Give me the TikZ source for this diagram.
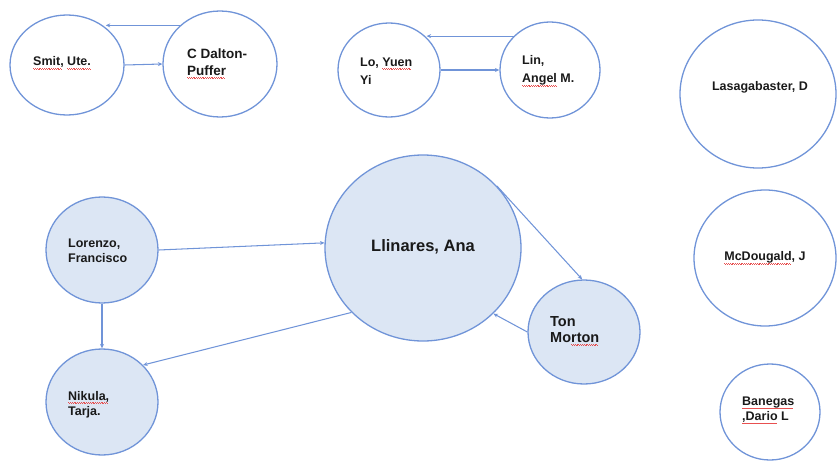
\documentclass[tikz,border=0pt]{standalone}
\usepackage{fontspec}
\setmainfont{Liberation Sans}
\usetikzlibrary{shapes.geometric,arrows.meta}
\definecolor{edgeblue}{RGB}{112,148,216}
\definecolor{fillblue}{RGB}{220,230,244}
\definecolor{txt}{RGB}{25,25,25}
\definecolor{spell}{RGB}{232,80,80}
\newsavebox\sqbox
\newcommand\sq[1]{\sbox\sqbox{#1}\rlap{\textcolor{spell}{\leaders\hbox to 1.8pt{\rule[-2.5pt]{0.9pt}{0.4pt}\rule[-3.1pt]{0.9pt}{0.4pt}}\hskip\wd\sqbox}}\usebox\sqbox}
\begin{document}
\begin{tikzpicture}[x=1pt,y=-1pt,
  person/.style={ellipse,draw=edgeblue,line width=1.3pt,inner sep=0pt},
  filled/.style={person,fill=fillblue},
  lbl/.style={font=\fontsize{12.5}{15}\selectfont\bfseries,text=txt,align=left,inner sep=0pt},
  arr/.style={draw=edgeblue,line width=1.05pt,-{Stealth[length=4.5pt,width=4pt]}}]
\useasboundingbox (0,0) rectangle (837,460);
% top pairs
\node[person,minimum width=114pt,minimum height=100pt] (smit) at (67,65) {};
\node[person,minimum width=114pt,minimum height=106pt] (dalton) at (220,64) {};
\node[person,minimum width=102pt,minimum height=94pt] (lo) at (389,70) {};
\node[person,minimum width=100pt,minimum height=96pt] (lin) at (550,70) {};
% right column
\node[person,minimum width=156pt,minimum height=148pt] (lasa) at (758,94) {};
\node[person,minimum width=142pt,minimum height=136pt] (mcd) at (765,258) {};
\node[person,minimum width=100pt,minimum height=96pt] (ban) at (770,412) {};
% filled cluster
\node[filled,minimum width=112pt,minimum height=106pt] (lor) at (102,250) {};
\node[filled,minimum width=112pt,minimum height=106pt] (nik) at (102,402) {};
\node[filled,minimum width=196pt,minimum height=186pt] (lli) at (423,248) {};
\node[filled,minimum width=112pt,minimum height=104pt] (ton) at (584,332) {};
% labels
\node[lbl,anchor=west] (tsmit) at (33,63) {\sq{Smit,} \sq{Ute.}};
\node[lbl,anchor=west,font=\fontsize{13.5}{17}\selectfont\bfseries] (tdalton) at (187,63.5) {C Dalton-\\\sq{Puffer}};
\node[lbl,anchor=west,font=\fontsize{12.5}{18}\selectfont\bfseries] (tlo) at (360,71) {Lo, \sq{Yuen}\\Yi};
\node[lbl,anchor=west,font=\fontsize{12.5}{18}\selectfont\bfseries] (tlin) at (522,71) {Lin,\\\sq{Angel} M.};
\node[lbl] (tlasa) at (760,87) {Lasagabaster, D};
\node[lbl] (tmcd) at (765,258) {\sq{McDougald}, J};
\node[lbl,anchor=west] (tban) at (742,410.5) {\sq{Banegas}\\\sq{,Dario} L};
\node[lbl,anchor=west] (tlor) at (68,250.5) {Lorenzo,\\Francisco};
\node[lbl,anchor=west] (tnik) at (68,404.5) {\sq{Nikula,}\\Tarja.};
\node[lbl,font=\fontsize{16.5}{19}\selectfont\bfseries] (tlli) at (423,247) {Llinares, Ana};
\node[lbl,anchor=west,font=\fontsize{14.5}{15.5}\selectfont\bfseries] (tton) at (550,331) {Ton\\Mo\sq{rton}};
% connectors
\draw[arr] (dalton.136) -- (dalton.136 -| smit.44);
\draw[arr] (smit.east) -- (dalton.west);
\draw[arr] (lin.137) -- (lin.137 -| lo.41);
\draw[arr] (lo.east) -- (lin.west);
\draw[arr] (lor.east) -- (lli.177);
\draw[arr] (lor.south) -- (nik.north);
\draw[arr] (lli.222) -- (nik.42);
\draw[arr] (lli.40) -- (ton.92);
\draw[arr] (ton.west) -- (lli.317);
\end{tikzpicture}
\end{document}
